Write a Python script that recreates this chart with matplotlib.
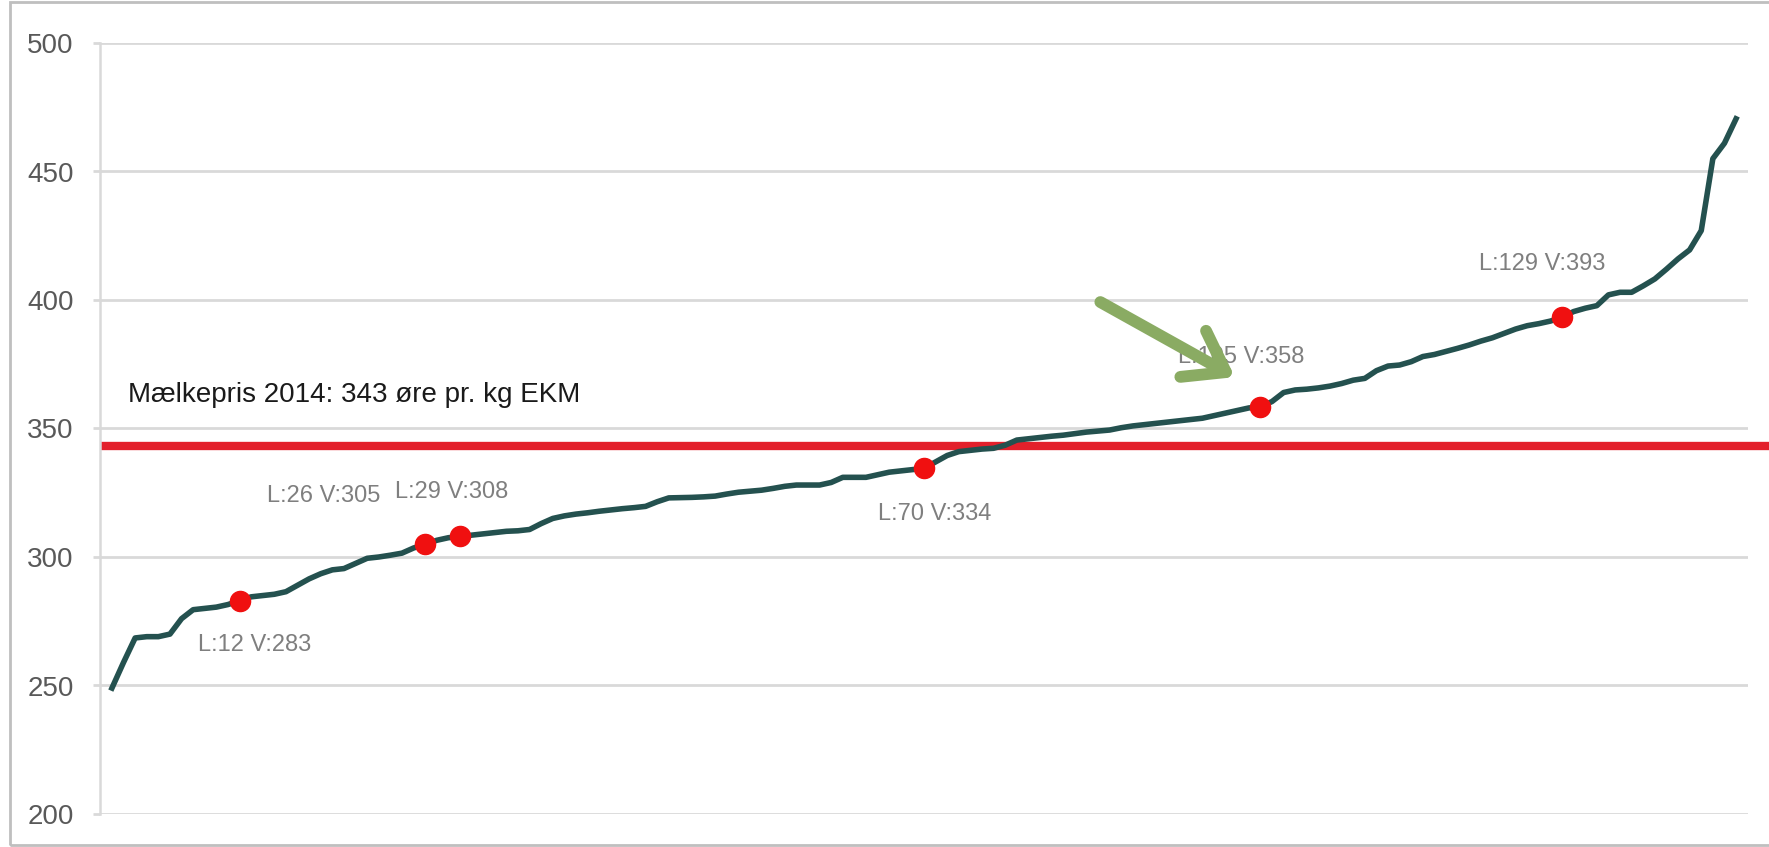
import matplotlib.pyplot as plt
import matplotlib.patches as patches
import numpy as np

# milk price per farm (oere pr. kg EKM), sorted low -> high
values = [249, 259, 268.5, 269, 269, 270, 276, 279.5, 280, 280.5,
          281.5, 283, 284.5, 285, 285.5, 286.5, 289, 291.5, 293.5, 295,
          295.5, 297.5, 299.5, 300, 300.7, 301.5, 303.5, 305, 306.5, 307.5,
          308, 308.5, 309, 309.5, 310, 310.2, 310.7, 313, 315, 316,
          316.7, 317.2, 317.8, 318.3, 318.8, 319.2, 319.7, 321.5, 323, 323.1,
          323.2, 323.4, 323.7, 324.5, 325.2, 325.6, 326, 326.7, 327.5, 328,
          328, 328, 329, 331, 331, 331, 332, 333, 333.5, 334,
          334.5, 337, 339.5, 341, 341.5, 342, 342.3, 343.5, 345.5, 346,
          346.5, 347, 347.4, 348, 348.6, 349, 349.4, 350.3, 351, 351.5,
          352, 352.5, 353, 353.5, 354, 355, 356, 357, 358, 358.4,
          360.5, 364, 365, 365.3, 365.8, 366.5, 367.5, 368.8, 369.5, 372.5,
          374.3, 374.7, 376, 378, 378.8, 380, 381.2, 382.5, 384, 385.3,
          387, 388.7, 390, 390.8, 391.8, 393.3, 395.5, 396.8, 397.8, 402,
          403, 403, 405.5, 408.2, 412, 416, 419.5, 427, 455, 461,
          470.5]
rank = np.arange(1, len(values) + 1)

mark_rank = [12, 28, 31, 71, 100, 126]
mark_text = ['L:12 V:283', 'L:26 V:305', 'L:29 V:308',
             'L:70 V:334', 'L:105 V:358', 'L:129 V:393']
label_offsets = [(11, -32), (-73, 35), (-6, 32), (8, -33), (-14, 36), (-14, 38)]

milk_price = 343
price_text = 'Mælkepris 2014: 343 øre pr. kg EKM'
yticks = [200, 250, 300, 350, 400, 450, 500]

plt.rcParams['font.family'] = ['Liberation Sans', 'DejaVu Sans']

fig = plt.figure(figsize=(17.69, 8.47), dpi=100)
ax = fig.add_axes([100/1769, 33/847, 1648/1769, 771/847])

grey = '#d9d9d9'
ax.set_ylim(200, 500)
ax.set_xlim(-0.03, 142.03)
ax.set_yticks(yticks)
ax.set_xticks([])
ax.yaxis.grid(True, color=grey, lw=2.0)
ax.set_axisbelow(True)
for s in ['top', 'right', 'bottom']:
    ax.spines[s].set_visible(False)
ax.spines['left'].set_color(grey)
ax.spines['left'].set_linewidth(1.8)
ax.tick_params(axis='y', length=5, width=2.0, color=grey, pad=14,
               labelsize=20, labelcolor='#595959')

# price line runs out to the right edge of the picture
ax.axhline(milk_price, xmin=0, xmax=1.02, color='#e3202b', lw=6,
           solid_capstyle='butt', clip_on=False, zorder=2)

ax.plot(rank, values, color='#24514f', lw=4, solid_joinstyle='round', zorder=3)

vals = np.array(values)
mr = np.array(mark_rank)
ax.plot(mr, vals[mr - 1], 'o', color='#f01010', markersize=14.5, zorder=4)
for r, t, off in zip(mark_rank, mark_text, label_offsets):
    ax.annotate(t, xy=(r, vals[r - 1]), xytext=off, textcoords='offset points',
                ha='center', va='center', fontsize=17, color='#7f7f7f', zorder=5)

ax.text(2.4, 363, price_text, fontsize=20, color='#1a1a1a', ha='left', va='center')

# green arrow pointing at the highlighted farm
ax.annotate('', xy=(97.8, 370), xytext=(86.2, 399.2),
            arrowprops=dict(arrowstyle='->, head_length=2.7, head_width=1.9',
                            mutation_scale=10, color='#8aab63', lw=8.5,
                            shrinkA=0, shrinkB=0),
            zorder=6)

# outer frame
fig.patches.append(patches.Rectangle((10/1769, 2/847), 1.2, 843/847, fill=False,
                                     edgecolor='#bfbfbf', lw=2,
                                     transform=fig.transFigure, figure=fig))

plt.savefig('out.png', dpi=100)
